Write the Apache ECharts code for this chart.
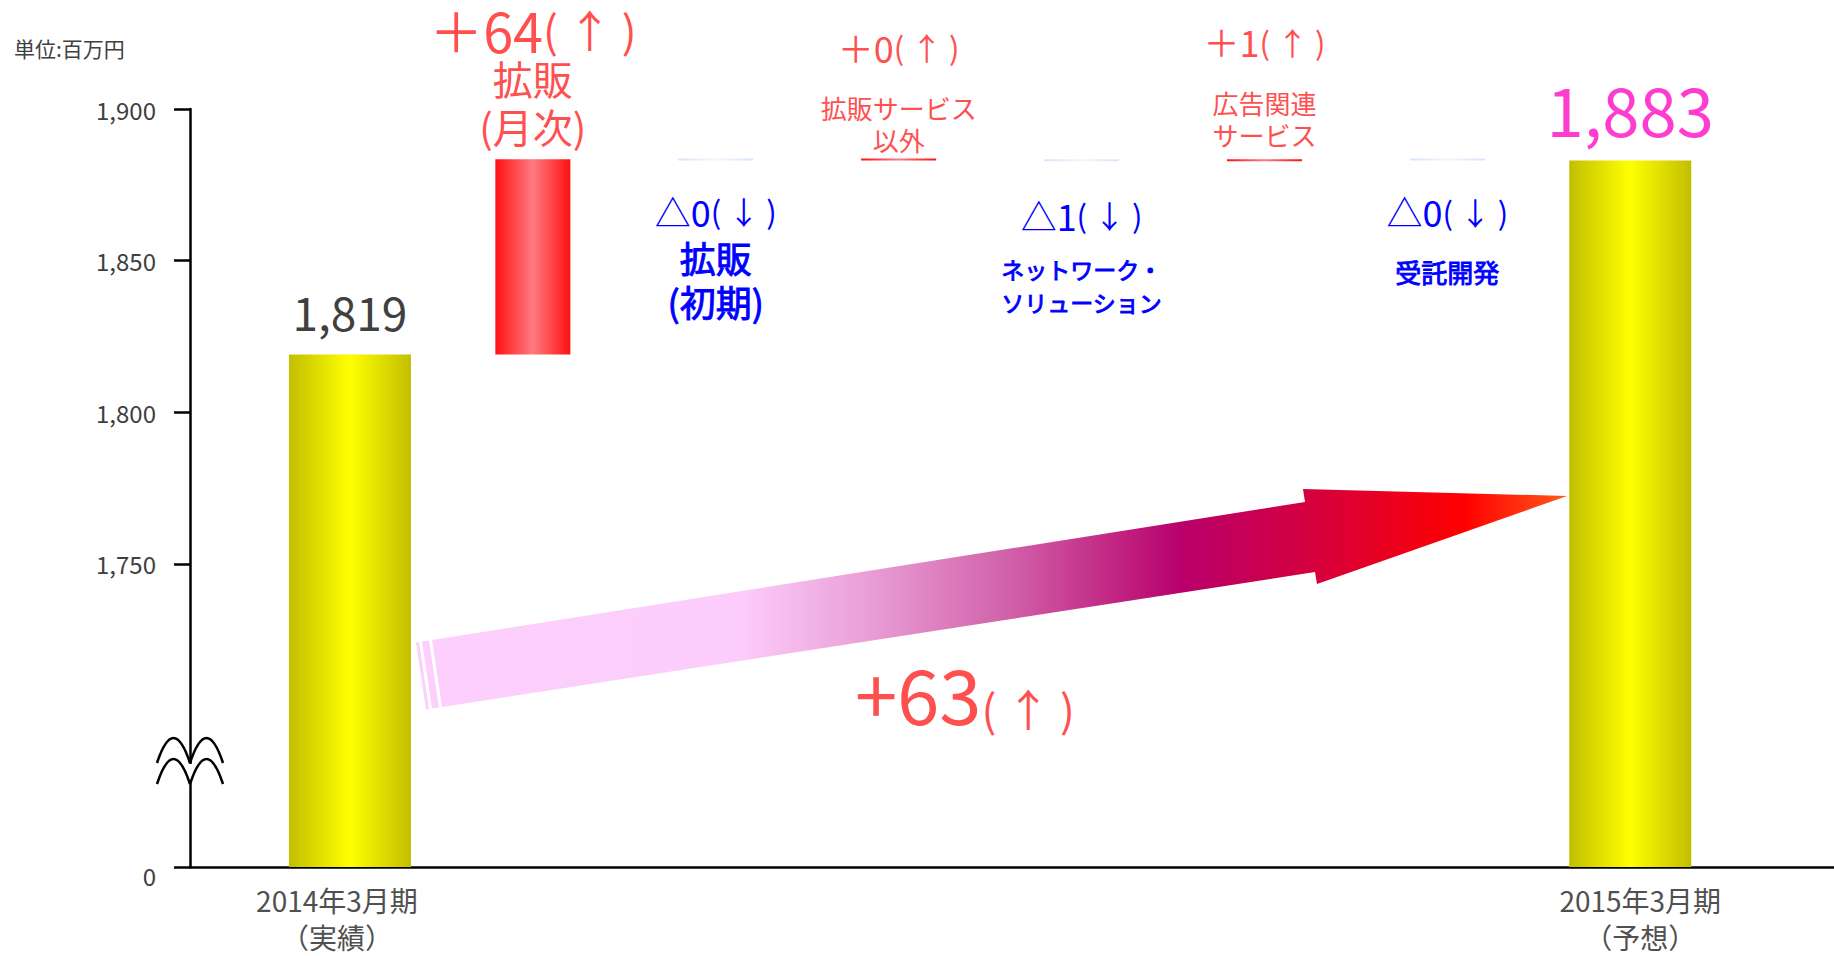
<!DOCTYPE html>
<html>
<head>
<meta charset="utf-8">
<title>売上高 増減要因</title>
<script src="https://cdn.jsdelivr.net/npm/echarts@6/dist/echarts.min.js"></script>
<style>
  html, body { margin: 0; padding: 0; background: #fff; }
  #chart { width: 1834px; height: 956px; }
</style>
</head>
<body>
<div id="chart"></div>
<script>
// 単位: 百万円
const categories = [
  '2014年3月期\n（実績）',
  '拡販\n(月次)',
  '拡販\n(初期)',
  '拡販サービス\n以外',
  'ネットワーク・\nソリューション',
  '広告関連\nサービス',
  '受託開発',
  '2015年3月期\n（予想）'
]
const totals = [1819, null, null, null, null, null, null, 1883]
const deltas = [null, 64.4, -0.4, 0.4, -0.6, 0.6, -0.4, null]
const totalChange = '+63'
const unitText = '単位:百万円'
const yTicks = [1750, 1800, 1850, 1900]
const yMin = 1650 // bottom of the cut axis, shown as 0
const yMax = 1900

const FONT = "'Noto Sans CJK JP', sans-serif"
const RED = '#ff5050'
const BLUE = '#0000ff'
const GRAY = '#404040'

// waterfall pieces
const base = []
const up = []
const down = []
let level = totals[0]
deltas.forEach((d) => {
  if (d === null) { base.push('-'); up.push('-'); down.push('-'); return }
  if (d >= 0) { base.push(level); up.push(d); down.push('-') }
  else { base.push(level + d); up.push('-'); down.push(-d) }
  level += d
})
const largeText = categories.map((c) => c.startsWith('拡販\n'))
const singleLine = categories.map((c) => !c.includes('\n'))
// label gaps above the rising pieces (the 広告 text sits a bit higher)
const upGap = { 1: 9, 3: 3, 5: 9 }

const grad = (edge, mid) => new echarts.graphic.LinearGradient(0, 0, 1, 0, [
  { offset: 0, color: edge }, { offset: 0.5, color: mid }, { offset: 1, color: edge }
])

const fmt = (v) => v.toLocaleString('en-US')

const upLabel = (p) => {
  const i = p.dataIndex
  const s = largeText[i] ? ['A', 'B', 'N'] : ['a', 'b', 'n']
  return `{${s[0]}|＋${Math.round(deltas[i])}}{${s[1]}|( ↑ )}\n` +
    categories[i].split('\n').map((t) => `{${s[2]}|${t}}`).join('\n')
}
const downLabel = (p) => {
  const i = p.dataIndex
  const s = largeText[i] ? ['C', 'D', 'M'] : singleLine[i] ? ['e', 'f', 'k'] : ['c', 'd', 'm']
  return `{${s[0]}|△${Math.round(-deltas[i])}}{${s[1]}|( ↓ )}\n` +
    categories[i].split('\n').map((t) => `{${s[2]}|${t}}`).join('\n')
}

const blue = (size, lh, extra) => Object.assign({ fontSize: size, lineHeight: lh, color: BLUE, fontFamily: FONT }, extra || {})
const red = (size, lh) => ({ fontSize: size, lineHeight: lh, color: RED, fontFamily: FONT })
const heavy = { textBorderColor: BLUE, textBorderWidth: 0.9 }

const chart = echarts.init(document.getElementById('chart'), null, { renderer: 'svg' })

chart.setOption({
  animation: false,
  backgroundColor: '#fff',
  textStyle: { fontFamily: FONT },
  grid: [
    { left: 258.5, right: 112.3, top: 109, bottom: 89 },
    { left: 190, right: 0, top: 109, bottom: 89 }
  ],
  xAxis: [
    {
      type: 'category',
      gridIndex: 0,
      data: categories,
      axisLine: { show: false },
      axisTick: { show: false },
      axisLabel: {
        interval: 0,
        margin: 14,
        formatter: (v, i) => {
          if (totals[i] === null) return ''
          const s = i === 0 ? 'l' : 'r'
          const lines = v.split('\n')
          return `{${s}|${lines[0]}}\n{${s}2|${lines[1]}}`
        },
        rich: {
          l: { fontSize: 28, lineHeight: 38, color: '#505050', fontFamily: FONT, padding: [0, 26, 0, 0] },
          l2: { fontSize: 28, lineHeight: 36, color: '#505050', fontFamily: FONT, padding: [0, 26, 0, 0] },
          r: { fontSize: 28, lineHeight: 38, color: '#505050', fontFamily: FONT, padding: [0, 0, 0, 20] },
          r2: { fontSize: 28, lineHeight: 36, color: '#505050', fontFamily: FONT, padding: [0, 0, 0, 20] }
        }
      }
    },
    { type: 'category', gridIndex: 0, data: categories, show: false },
    {
      type: 'value',
      gridIndex: 1,
      min: 0,
      max: 1,
      axisLine: { show: true, onZero: false, lineStyle: { color: '#000', width: 2.5 } },
      axisTick: { show: false },
      axisLabel: { show: false },
      splitLine: { show: false }
    }
  ],
  yAxis: [
    { type: 'value', gridIndex: 0, min: yMin, max: yMax, show: false },
    {
      type: 'value',
      gridIndex: 1,
      min: yMin,
      max: yMax,
      interval: 50,
      axisLine: { show: true, onZero: false, lineStyle: { color: '#000', width: 2.5 } },
      axisTick: { show: true, length: 16, customValues: [yMin, ...yTicks], lineStyle: { color: '#000', width: 2.5 } },
      splitLine: { show: false },
      axisLabel: {
        customValues: [yMin, ...yTicks],
        margin: 34,
        color: GRAY,
        fontSize: 24,
        fontFamily: FONT,
        formatter: (v) => (v === yMin ? '{z|0}' : fmt(v)),
        rich: { z: { fontSize: 24, color: GRAY, fontFamily: FONT, padding: [16, 0, 0, 0] } }
      }
    }
  ],
  series: [
    {
      name: '期',
      type: 'bar',
      xAxisIndex: 0,
      yAxisIndex: 0,
      barWidth: 122,
      silent: true,
      itemStyle: { color: grad('#c2be00', '#ffff00') },
      data: totals.map((v, i) => (v === null ? '-' : { value: v, label: { distance: i === 0 ? 21 : 20 } })),
      label: {
        show: true,
        position: 'top',
        formatter: (p) => (p.dataIndex === 0 ? `{p|${fmt(p.value)}}` : `{q|${fmt(p.value)}}`),
        rich: {
          p: { fontSize: 46, lineHeight: 46, color: GRAY, fontFamily: FONT },
          q: { fontSize: 67, lineHeight: 67, color: '#ff3cd0', fontFamily: FONT }
        }
      }
    },
    {
      name: 'base',
      type: 'bar',
      xAxisIndex: 1,
      yAxisIndex: 0,
      stack: 'wf',
      barWidth: 75,
      silent: true,
      itemStyle: { color: 'transparent' },
      data: base
    },
    {
      name: '増加',
      type: 'bar',
      xAxisIndex: 1,
      yAxisIndex: 0,
      stack: 'wf',
      barWidth: 75,
      barMinHeight: 2,
      silent: true,
      itemStyle: { color: grad('#ff1010', '#ff7a82') },
      data: up.map((v, i) => (v === '-' ? '-' : { value: v, label: { distance: upGap[i] } })),
      label: {
        show: true,
        position: 'top',
        formatter: upLabel,
        rich: {
          A: red(54, 50),
          B: red(44, 50),
          N: red(40, 48),
          a: red(36, 90),
          b: red(31, 90),
          n: red(26, 32)
        }
      }
    },
    {
      name: '減少',
      type: 'bar',
      xAxisIndex: 1,
      yAxisIndex: 0,
      stack: 'wf',
      barWidth: 75,
      barMinHeight: 2,
      silent: true,
      itemStyle: { color: grad('#d6e4fa', '#f2f7fe') },
      data: down.map((v, i) => (v === '-' ? '-' : { value: v, label: { distance: largeText[i] ? 26 : singleLine[i] ? 7 : 16 } })),
      label: {
        show: true,
        position: 'bottom',
        formatter: downLabel,
        rich: {
          C: blue(36, 48),
          D: blue(31, 48),
          M: blue(36, 44, heavy),
          c: blue(36, 75),
          d: blue(31, 75),
          m: blue(23, 33, heavy),
          e: blue(36, 87),
          f: blue(31, 87),
          k: blue(26, 33, heavy)
        }
      }
    }
  ],
  graphic: [
    {
      type: 'text',
      left: 14,
      top: 37,
      style: { text: unitText, fill: GRAY, fontSize: 21, fontFamily: FONT }
    },
    // overall change arrow
    {
      type: 'polygon',
      z: 3,
      shape: { points: [[432, 640], [1305, 502], [1303, 489], [1567, 496], [1317, 584], [1315, 572], [442, 707]] },
      style: {
        fill: new echarts.graphic.LinearGradient(0, 0, 1, 0, [
          { offset: 0, color: '#fccffc' },
          { offset: 0.27, color: '#fccdfb' },
          { offset: 0.38, color: '#eaa0d8' },
          { offset: 0.51, color: '#d060a8' },
          { offset: 0.66, color: '#b8006b' },
          { offset: 0.78, color: '#d6003c' },
          { offset: 0.91, color: '#ff0000' },
          { offset: 1, color: '#ff5a1a' }
        ])
      }
    },
    { type: 'polygon', z: 3, shape: { points: [[416, 642.5], [419, 642], [429, 709], [426, 709.5]] }, style: { fill: '#fccffc' } },
    { type: 'polygon', z: 3, shape: { points: [[422, 641.6], [429, 640.5], [439, 707.5], [432, 708.6]] }, style: { fill: '#fccffc' } },
    {
      type: 'text',
      z: 3,
      x: 965,
      y: 690,
      style: {
        text: `{a|${totalChange}}{b|( ↑ )}`,
        align: 'center',
        verticalAlign: 'middle',
        rich: {
          a: { fontSize: 76, fill: RED, fontFamily: FONT, verticalAlign: 'bottom', lineHeight: 80 },
          b: { fontSize: 44, fill: RED, fontFamily: FONT, verticalAlign: 'bottom', lineHeight: 80 }
        }
      }
    },
    // axis break mark
    { type: 'rect', z: 50, shape: { x: 184, y: 764, width: 12, height: 19 }, style: { fill: '#fff' } },
    { type: 'bezierCurve', z: 51, shape: { x1: 157, y1: 763, cpx1: 173.5, cpy1: 713, x2: 190, y2: 763 }, style: { stroke: '#000', lineWidth: 2.5, fill: null } },
    { type: 'bezierCurve', z: 51, shape: { x1: 190, y1: 763, cpx1: 206.5, cpy1: 713, x2: 223, y2: 763 }, style: { stroke: '#000', lineWidth: 2.5, fill: null } },
    { type: 'bezierCurve', z: 51, shape: { x1: 157, y1: 784, cpx1: 173.5, cpy1: 734, x2: 190, y2: 784 }, style: { stroke: '#000', lineWidth: 2.5, fill: null } },
    { type: 'bezierCurve', z: 51, shape: { x1: 190, y1: 784, cpx1: 206.5, cpy1: 734, x2: 223, y2: 784 }, style: { stroke: '#000', lineWidth: 2.5, fill: null } }
  ]
})
</script>
</body>
</html>
